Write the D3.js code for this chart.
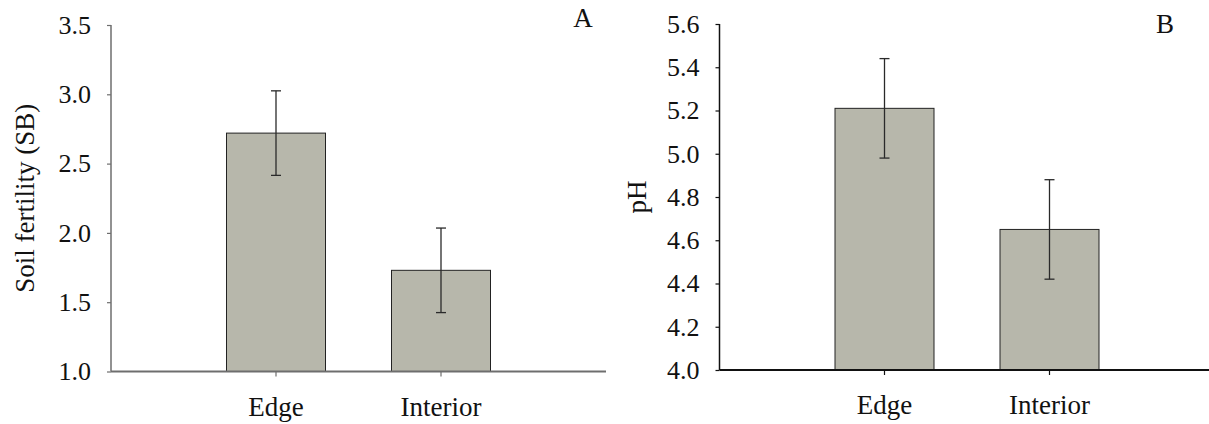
<!DOCTYPE html>
<html>
<head>
<meta charset="utf-8">
<script src="https://cdn.jsdelivr.net/npm/d3@7"></script>
<style>
  html, body { margin: 0; padding: 0; background: #fff; }
  svg { display: block; }
</style>
</head>
<body>
<svg id="chart" width="1209" height="424"></svg>
<script>
// Sites sampled
const categories = ["Edge", "Interior"];

// Panel A: soil fertility (sum of bases), mean ± SE
const fertilityMean = [2.72, 1.73];
const fertilitySE = [0.305, 0.305];
const fertilityTicks = [1.0, 1.5, 2.0, 2.5, 3.0, 3.5];

// Panel B: soil pH, mean ± SE
const phMean = [5.21, 4.65];
const phSE = [0.23, 0.23];
const phTicks = [4.0, 4.2, 4.4, 4.6, 4.8, 5.0, 5.2, 5.4, 5.6];

const SERIF = "'Liberation Serif', 'Times New Roman', serif";

const svg = d3.select("#chart");

function drawPanel(opts) {
  const g = svg.append("g");
  const x = d3.scaleBand()
    .domain(categories)
    .range([opts.left, opts.left + 495])
    .paddingInner(0.4)
    .paddingOuter(0.7);
  const y = d3.scaleLinear()
    .domain(opts.domain)
    .range([opts.bottom, opts.top]);

  // bars
  g.selectAll("rect.bar")
    .data(categories)
    .join("rect")
    .attr("class", "bar")
    .attr("x", d => x(d))
    .attr("width", x.bandwidth())
    .attr("y", (d, i) => y(opts.means[i]))
    .attr("height", (d, i) => y(opts.domain[0]) - y(opts.means[i]))
    .attr("fill", "#b7b7ab")
    .attr("stroke", "#222")
    .attr("stroke-width", 1);

  // error bars
  const eb = g.selectAll("g.err")
    .data(categories)
    .join("g")
    .attr("class", "err")
    .attr("stroke", "#2a2a2a")
    .attr("stroke-width", 1.3);
  const cx = d => x(d) + x.bandwidth() / 2;
  eb.append("line")
    .attr("x1", cx).attr("x2", cx)
    .attr("y1", (d, i) => y(opts.means[i] + opts.se[i]))
    .attr("y2", (d, i) => y(opts.means[i] - opts.se[i]));
  eb.append("line")
    .attr("x1", d => cx(d) - 5).attr("x2", d => cx(d) + 5)
    .attr("y1", (d, i) => y(opts.means[i] + opts.se[i]))
    .attr("y2", (d, i) => y(opts.means[i] + opts.se[i]));
  eb.append("line")
    .attr("x1", d => cx(d) - 5).attr("x2", d => cx(d) + 5)
    .attr("y1", (d, i) => y(opts.means[i] - opts.se[i]))
    .attr("y2", (d, i) => y(opts.means[i] - opts.se[i]));

  // y axis
  const yAxis = g.append("g")
    .attr("transform", `translate(${opts.left},0)`)
    .call(d3.axisLeft(y).tickValues(opts.ticks).tickFormat(d3.format(".1f")).tickSize(4).tickPadding(16))
    .attr("font-family", null)
    .attr("font-size", null);
  yAxis.select(".domain").attr("stroke", opts.axisColor).attr("stroke-width", 1.5)
    .attr("d", `M0,${opts.top}V${opts.bottom}`);
  yAxis.selectAll(".tick line").attr("stroke", opts.axisColor).attr("stroke-width", 1.2);
  yAxis.selectAll(".tick text")
    .style("font-family", SERIF)
    .style("font-size", "26px")
    .attr("fill", "#111");

  // x axis
  const xAxis = g.append("g")
    .attr("transform", `translate(0,${opts.bottom})`)
    .call(d3.axisBottom(x).tickSize(5).tickPadding(20))
    .attr("font-family", null)
    .attr("font-size", null);
  xAxis.select(".domain").attr("stroke", opts.axisColor).attr("stroke-width", 1.8)
    .attr("d", `M${opts.left},0H${opts.left + 495}`);
  xAxis.selectAll(".tick line").attr("stroke", opts.axisColor).attr("stroke-width", 1.2);
  xAxis.selectAll(".tick text")
    .style("font-family", SERIF)
    .style("font-size", "27px")
    .attr("fill", "#111");

  // y axis title
  g.append("text")
    .attr("transform", `translate(${opts.titleX},${(opts.top + opts.bottom) / 2}) rotate(-90)`)
    .attr("text-anchor", "middle")
    .attr("dy", "0.35em")
    .style("font-family", SERIF)
    .style("font-size", "27px")
    .attr("fill", "#111")
    .text(opts.title);

  // panel letter
  g.append("text")
    .attr("x", opts.letterX)
    .attr("y", opts.letterY)
    .attr("text-anchor", "middle")
    .style("font-family", SERIF)
    .style("font-size", "27px")
    .attr("fill", "#111")
    .text(opts.letter);
}

drawPanel({
  left: 111, top: 25, bottom: 371.5,
  domain: [1.0, 3.5], ticks: fertilityTicks,
  means: fertilityMean, se: fertilitySE,
  axisColor: "#6e6e6e",
  title: "Soil fertility (SB)", titleX: 25,
  letter: "A", letterX: 583, letterY: 27
});

drawPanel({
  left: 719.5, top: 24, bottom: 370,
  domain: [4.0, 5.6], ticks: phTicks,
  means: phMean, se: phSE,
  axisColor: "#111",
  title: "pH", titleX: 637,
  letter: "B", letterX: 1165, letterY: 33
});
</script>
</body>
</html>
